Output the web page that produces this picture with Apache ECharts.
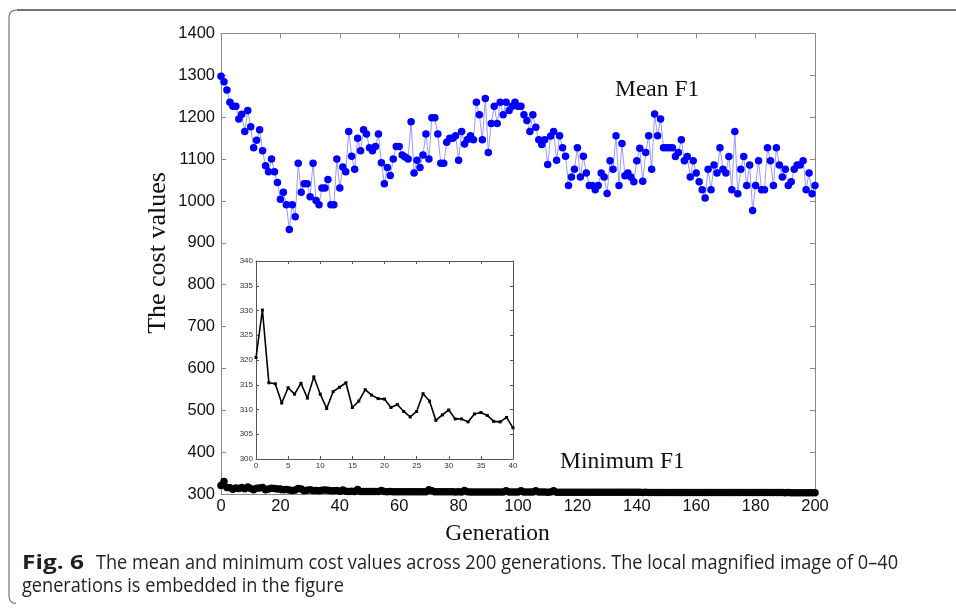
<!DOCTYPE html>
<html><head><meta charset="utf-8">
<script src="https://cdn.jsdelivr.net/npm/echarts@6/dist/echarts.min.js"></script>
<style>html,body{margin:0;padding:0;background:#fff}#c{width:956px;height:608px}</style>
</head><body><div id="c"></div>
<script>
// ---- data ----
const meanF1 = [
1298,1285,1265,1236,1226,1226,1196,1207,1166,1216,
1177,1127,1145,1170,1120,1084,1070,1100,1070,1044,
1004,1021,991,932,991,962,1090,1021,1041,1041,
1010,1090,1001,991,1031,1031,1051,991,991,1100,
1031,1081,1070,1166,1107,1076,1150,1120,1170,1160,
1127,1120,1130,1160,1091,1041,1080,1061,1100,1130,
1130,1110,1105,1100,1189,1067,1097,1080,1110,1160,
1100,1199,1199,1160,1090,1090,1140,1150,1150,1156,
1097,1166,1136,1147,1156,1146,1236,1206,1146,1245,
1116,1185,1226,1185,1236,1206,1236,1216,1226,1236,
1226,1226,1206,1192,1166,1206,1176,1146,1135,1146,
1087,1155,1166,1097,1156,1127,1107,1037,1057,1076,
1127,1057,1107,1067,1037,1037,1027,1037,1067,1057,
1018,1096,1076,1156,1037,1137,1060,1067,1057,1046,
1096,1126,1047,1116,1156,1076,1208,1156,1196,1127,
1127,1127,1127,1106,1116,1146,1096,1106,1057,1096,
1067,1046,1027,1007,1076,1027,1086,1067,1127,1076,
1067,1106,1027,1166,1017,1076,1106,1037,1086,977,
1037,1096,1027,1027,1127,1096,1037,1127,1086,1057,
1076,1037,1046,1076,1086,1086,1096,1027,1067,1017,
1037];
const minF1 = [
320.5,330.1,315.4,315.2,311.3,314.4,313.1,315.3,312.3,316.6,
313.1,310.2,313.6,314.5,315.4,310.4,311.7,314.0,312.9,312.2,
312.1,310.4,311.0,309.6,308.5,309.6,313.2,311.7,307.8,308.9,
309.9,308.1,308.1,307.5,309.1,309.4,308.8,307.6,307.5,308.4,
306.3,
309.5,306.4,306.1,306.3,306.0,310.5,306.2,305.9,306.0,305.8,
305.8,305.9,305.7,308.5,305.8,305.6,305.7,305.5,305.6,305.5,
305.4,305.6,305.5,305.3,305.4,305.3,305.5,305.3,305.2,310.0,
307.5,305.3,305.2,305.4,305.1,305.2,305.1,305.2,305.0,305.1,
305.0,308.5,305.1,304.9,305.0,304.9,305.0,304.9,304.8,304.9,
304.8,304.9,304.8,304.7,304.8,308.0,304.8,304.7,304.7,304.6,
307.5,304.6,304.7,304.6,304.5,308.0,304.6,304.5,304.5,304.4,
304.5,308.0,304.4,304.4,304.3,304.4,304.3,304.3,304.2,304.3,
304.2,304.2,304.2,304.1,304.2,304.1,304.1,304.1,304.0,304.1,
304.0,304.0,304.0,304.0,303.9,304.0,303.9,303.9,303.9,303.9,
303.9,303.8,303.9,303.8,303.8,303.8,303.8,303.8,303.7,303.8,
303.7,303.7,303.7,303.7,303.7,303.6,303.7,303.6,303.6,303.6,
303.6,303.6,303.6,303.5,303.6,303.5,303.5,303.5,303.5,303.5,
303.5,303.5,303.4,303.5,303.4,303.4,303.4,303.4,303.4,303.4,
303.4,303.3,303.4,303.3,303.3,303.3,303.3,303.3,303.3,303.2,
303.3,303.2,303.2,303.2,303.2,303.2,303.1,303.2,303.1,303.1];
const insetRange = [0, 40];           // generations shown in the inset
const mainXTicks = [0, 200, 20];      // min, max, interval
const mainYTicks = [300, 1400, 100];
const insetXTicks = [0, 40, 5];
const insetYTicks = [300, 340, 5];
const seriesNames = ['Mean F1', 'Minimum F1'];
const xTitle = 'Generation';
const yTitle = 'The cost values';
const captionBold = 'Fig. 6';
const captionLine1 = 'The mean and minimum cost values across 200 generations. The local magnified image of 0\u201340';
const captionLine2 = 'generations is embedded in the figure';

// ---- chart ----
const chart = echarts.init(document.getElementById('c'), null, {renderer: 'canvas'});
const toPairs = arr => arr.map((v, i) => [i, v]);
const insetData = toPairs(minF1).slice(insetRange[0], insetRange[1] + 1);
const plain = v => String(v);

const ctx = document.createElement('canvas').getContext('2d');
const capFont = '"Open Sans", sans-serif';
const capSize = 19.5;
ctx.font = capSize + 'px ' + capFont;
const w1 = ctx.measureText(captionLine1).width;
const sx = (898 - 96) / w1;
ctx.font = 'bold ' + capSize + 'px ' + capFont;
const wb = ctx.measureText(captionBold).width;
const sxb = (84 - 22) / wb;

const axisGray = '#8a8a8a';
const labelBase = {color: '#111', fontFamily: 'Liberation Sans, Arial, sans-serif', fontSize: 16.5, formatter: plain};
function mainAxis(extra) {
  return Object.assign({
    type: 'value', gridIndex: 0,
    axisLine: {show: true, onZero: false, lineStyle: {color: axisGray, width: 1}},
    axisTick: {show: true, inside: true, length: 5, lineStyle: {color: axisGray}},
    splitLine: {show: false},
    axisLabel: labelBase
  }, extra);
}
function insetAxis(extra) {
  return Object.assign({
    type: 'value', gridIndex: 1,
    axisLine: {show: true, onZero: false, lineStyle: {color: '#555', width: 1}},
    axisTick: {show: true, inside: true, length: 3, lineStyle: {color: '#555'}},
    splitLine: {show: false},
    axisLabel: {color: '#333', fontFamily: 'Liberation Sans, Arial, sans-serif', fontSize: 8, margin: 3, formatter: plain}
  }, extra);
}

chart.setOption({
  animation: false,
  backgroundColor: '#fff',
  grid: [
    {left: 221, top: 33.5, width: 594, height: 460.5},
    {left: 256, top: 261, width: 257, height: 198, show: true, backgroundColor: '#fff', borderWidth: 0, z: 3}
  ],
  xAxis: [
    mainAxis({min: mainXTicks[0], max: mainXTicks[1], interval: mainXTicks[2], position: 'bottom', axisLabel: Object.assign({}, labelBase, {margin: 4})}),
    mainAxis({min: mainXTicks[0], max: mainXTicks[1], interval: mainXTicks[2], position: 'top', axisLabel: {show: false}}),
    insetAxis({min: insetXTicks[0], max: insetXTicks[1], interval: insetXTicks[2], position: 'bottom', z: 4}),
    insetAxis({min: insetXTicks[0], max: insetXTicks[1], interval: insetXTicks[2], position: 'top', axisLabel: {show: false}, z: 4})
  ],
  yAxis: [
    mainAxis({min: mainYTicks[0], max: mainYTicks[1], interval: mainYTicks[2], position: 'left', axisLabel: Object.assign({}, labelBase, {margin: 6})}),
    mainAxis({min: mainYTicks[0], max: mainYTicks[1], interval: mainYTicks[2], position: 'right', axisLabel: {show: false}}),
    insetAxis({min: insetYTicks[0], max: insetYTicks[1], interval: insetYTicks[2], position: 'left', z: 4}),
    insetAxis({min: insetYTicks[0], max: insetYTicks[1], interval: insetYTicks[2], position: 'right', axisLabel: {show: false}, z: 4})
  ],
  series: [
    {name: seriesNames[0], type: 'line', xAxisIndex: 0, yAxisIndex: 0, data: toPairs(meanF1),
     symbol: 'circle', symbolSize: 7.5, showAllSymbol: true,
     lineStyle: {color: '#9a9aff', width: 1}, itemStyle: {color: '#0000ff'}, z: 2},
    {name: seriesNames[1], type: 'line', xAxisIndex: 0, yAxisIndex: 0, data: toPairs(minF1),
     symbol: 'circle', symbolSize: 7.5, showAllSymbol: true,
     lineStyle: {color: '#000', width: 1}, itemStyle: {color: '#000'}, z: 2},
    {name: seriesNames[1] + ' (0\u201340)', type: 'line', xAxisIndex: 2, yAxisIndex: 2, data: insetData,
     symbol: 'rect', symbolSize: 3, showAllSymbol: true,
     lineStyle: {color: '#000', width: 1.6}, itemStyle: {color: '#000'}, z: 5}
  ],
  graphic: [
    {type: 'polyline', shape: {points: [[956, 10], [17, 10]]}, style: {stroke: '#444', lineWidth: 1.6, fill: null}},
    {type: 'polyline', shape: {points: [[17, 10], [13, 10.6], [10.5, 12.5], [9.3, 15], [9, 18], [9, 596], [9.6, 599.5], [11.5, 602], [14, 603.2], [16, 603.4]]}, style: {stroke: '#777', lineWidth: 1.2, fill: null}},
    {type: 'text', x: 615, y: 90, style: {text: seriesNames[0], font: '23.5px "Liberation Serif"', fill: '#111', textAlign: 'left', textVerticalAlign: 'middle'}},
    {type: 'text', x: 560, y: 462, style: {text: seriesNames[1], font: '23.5px "Liberation Serif"', fill: '#111', textAlign: 'left', textVerticalAlign: 'middle'}},
    {type: 'text', x: 497.5, y: 534, style: {text: xTitle, font: '23.5px "Liberation Serif"', fill: '#111', textAlign: 'center', textVerticalAlign: 'middle'}},
    {type: 'text', x: 158, y: 253, rotation: Math.PI / 2, style: {text: yTitle, font: '26px "Liberation Serif"', fill: '#111', textAlign: 'center', textVerticalAlign: 'middle'}},
    {type: 'text', x: 22, y: 563.5, scaleX: sxb, style: {text: captionBold, font: 'bold ' + capSize + 'px ' + capFont, fill: '#231f20', textAlign: 'left', textVerticalAlign: 'middle'}},
    {type: 'text', x: 96, y: 563.5, scaleX: sx, style: {text: captionLine1, font: capSize + 'px ' + capFont, fill: '#231f20', textAlign: 'left', textVerticalAlign: 'middle'}},
    {type: 'text', x: 22, y: 586, scaleX: sx, style: {text: captionLine2, font: capSize + 'px ' + capFont, fill: '#231f20', textAlign: 'left', textVerticalAlign: 'middle'}}
  ]
});
</script></body></html>
